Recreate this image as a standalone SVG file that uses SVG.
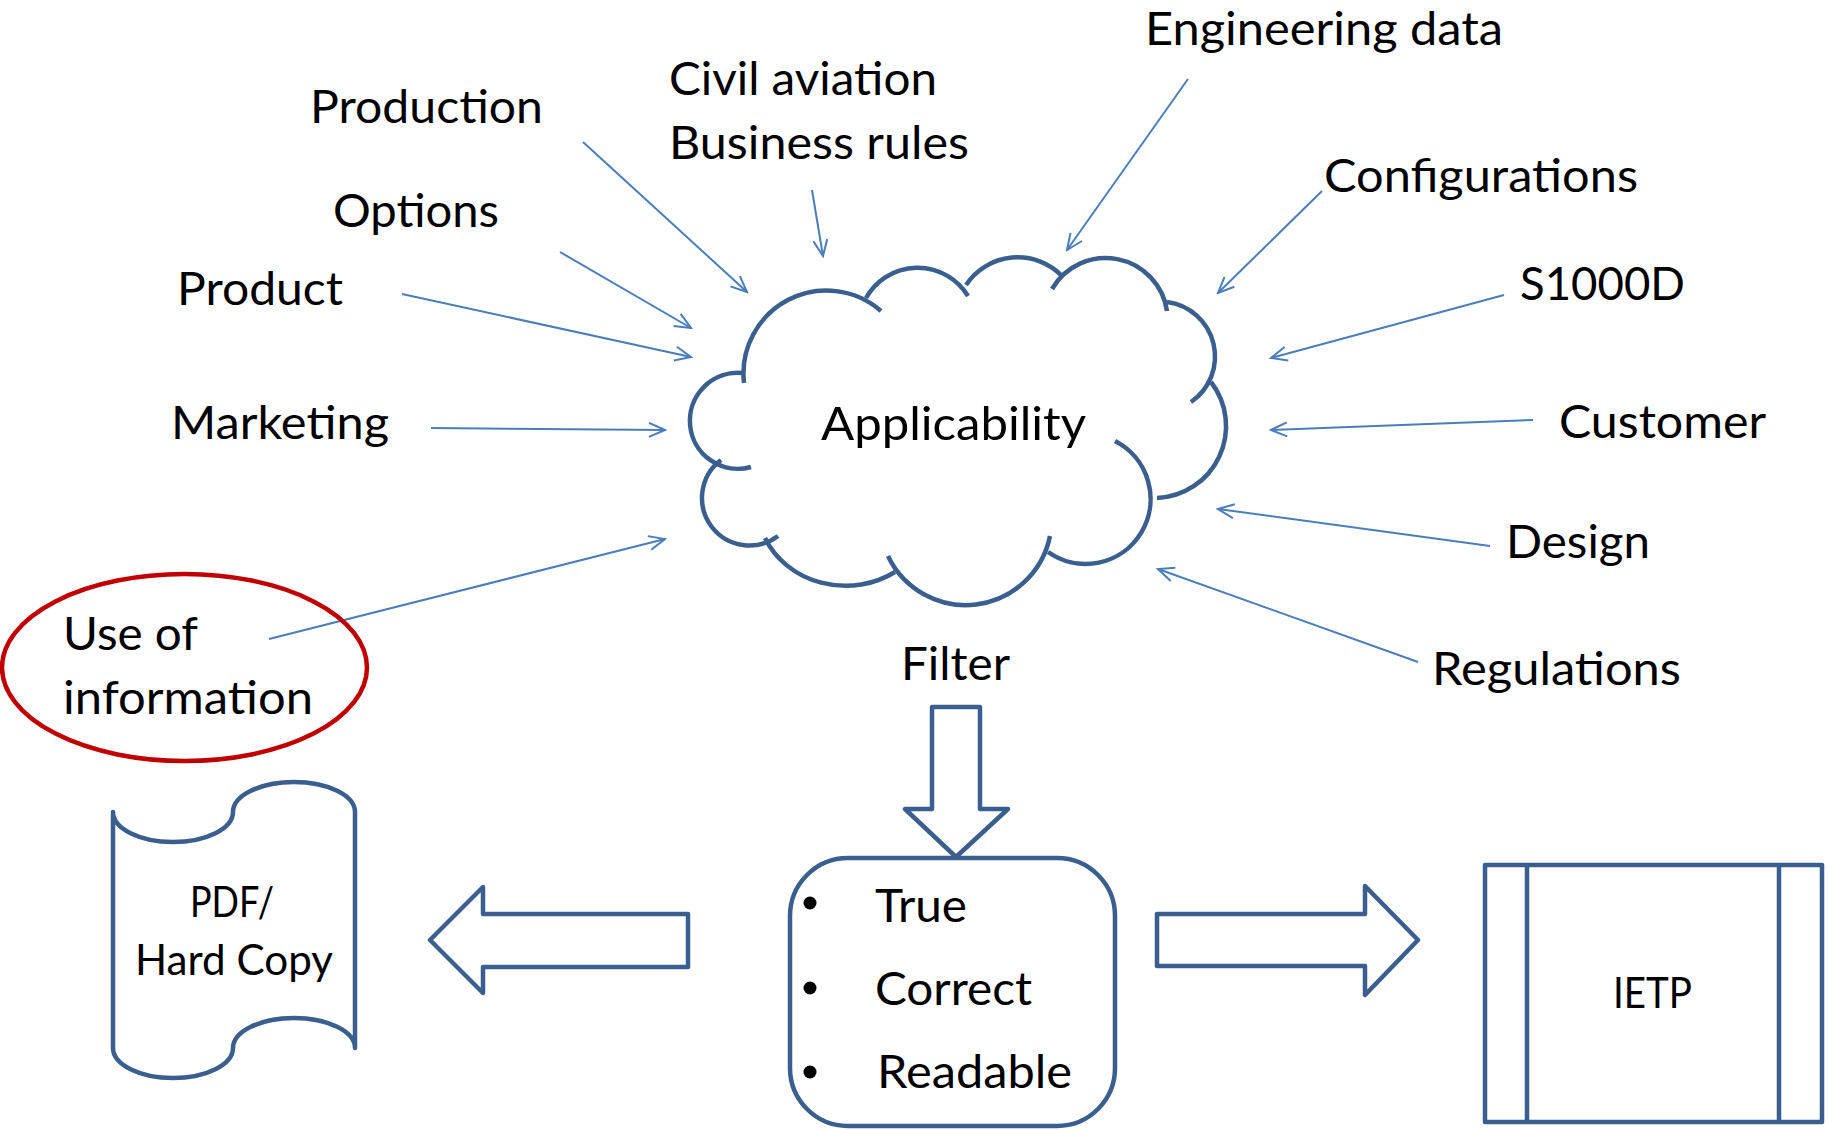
<svg xmlns="http://www.w3.org/2000/svg" width="1828" height="1130" viewBox="0 0 1828 1130">
<style>
text{font-family:Lato,"Liberation Sans",sans-serif;fill:#000;}
.lbl{font-size:47px;}
.sm{font-size:42px;}
.shape{fill:#fff;stroke:#3a5f8f;stroke-width:4.5;stroke-linejoin:round;}
.cl{fill:none;stroke:#3a5f8f;stroke-width:4.5;}
.conn{fill:none;stroke:#4a7ebb;stroke-width:2;marker-end:url(#ah);}
</style>
<defs>
<marker id="ah" markerUnits="userSpaceOnUse" markerWidth="20" markerHeight="16" viewBox="0 0 20 16" refX="18" refY="8" orient="auto">
<path d="M2,1 L18,8 L2,15" fill="none" stroke="#4a7ebb" stroke-width="2"/>
</marker>
</defs>
<rect width="1828" height="1130" fill="#fff"/>

<g id="connectors">
<line class="conn" x1="583" y1="142" x2="747" y2="292"/>
<line class="conn" x1="560" y1="252" x2="691" y2="328"/>
<line class="conn" x1="402" y1="294" x2="691" y2="357"/>
<line class="conn" x1="431" y1="428" x2="665" y2="430"/>
<line class="conn" x1="269" y1="639" x2="665" y2="539"/>
<line class="conn" x1="812" y1="190" x2="823" y2="256"/>
<line class="conn" x1="1188" y1="79" x2="1067" y2="250"/>
<line class="conn" x1="1322" y1="191" x2="1218" y2="293"/>
<line class="conn" x1="1504" y1="295" x2="1271" y2="358"/>
<line class="conn" x1="1533" y1="420" x2="1271" y2="430"/>
<line class="conn" x1="1490" y1="546" x2="1218" y2="509"/>
<line class="conn" x1="1418" y1="662" x2="1158" y2="569"/>
</g>

<g id="applicability">
<path class="cl" d="M751,467 A48,48 0 1 1 742,373"/>
<path class="cl" d="M744,383 A83,83 0 0 1 881,311"/>
<path class="cl" d="M866,298 A59,59 0 0 1 968,296"/>
<path class="cl" d="M966,285 A62,62 0 0 1 1062,276"/>
<path class="cl" d="M1052,289 A62,62 0 0 1 1167,311"/>
<path class="cl" d="M1167,302 A55,55 0 0 1 1191,402"/>
<path class="cl" d="M1211,382 A72,72 0 0 1 1157,498"/>
<path class="cl" d="M1115,441 A65,65 0 1 1 1048,552"/>
<path class="cl" d="M1050,536 A86,86 0 0 1 888,556"/>
<path class="cl" d="M895,572 A88,80 0 0 1 765,538"/>
<path class="cl" d="M778,536 A47.5,47.5 0 0 1 721,460"/>
<text class="lbl" x="821" y="440" textLength="265" lengthAdjust="spacingAndGlyphs">Applicability</text>
</g>

<g id="engineering-data"><text class="lbl" x="1145" y="45" textLength="358" lengthAdjust="spacingAndGlyphs">Engineering data</text></g>
<g id="civil-aviation"><text class="lbl" x="669" y="95" textLength="268" lengthAdjust="spacingAndGlyphs">Civil aviation</text><text class="lbl" x="669" y="159" textLength="300" lengthAdjust="spacingAndGlyphs">Business rules</text></g>
<g id="production"><text class="lbl" x="310" y="123" textLength="233" lengthAdjust="spacingAndGlyphs">Production</text></g>
<g id="options"><text class="lbl" x="333" y="227" textLength="166" lengthAdjust="spacingAndGlyphs">Options</text></g>
<g id="product"><text class="lbl" x="177" y="305" textLength="166" lengthAdjust="spacingAndGlyphs">Product</text></g>
<g id="marketing"><text class="lbl" x="171" y="439" textLength="218" lengthAdjust="spacingAndGlyphs">Marketing</text></g>
<g id="configurations"><text class="lbl" x="1324" y="192" textLength="314" lengthAdjust="spacingAndGlyphs">Configurations</text></g>
<g id="s1000d"><text class="lbl" x="1520" y="300" textLength="165" lengthAdjust="spacingAndGlyphs">S1000D</text></g>
<g id="customer"><text class="lbl" x="1559" y="438" textLength="207" lengthAdjust="spacingAndGlyphs">Customer</text></g>
<g id="design"><text class="lbl" x="1506" y="558" textLength="144" lengthAdjust="spacingAndGlyphs">Design</text></g>
<g id="regulations"><text class="lbl" x="1432" y="685" textLength="249" lengthAdjust="spacingAndGlyphs">Regulations</text></g>

<g id="use-of-information">
<ellipse cx="184.5" cy="667.5" rx="182.5" ry="93.5" fill="none" stroke="#c00000" stroke-width="4.5"/>
<text class="lbl" x="63" y="650" textLength="135" lengthAdjust="spacingAndGlyphs">Use of</text>
<text class="lbl" x="63" y="714" textLength="250" lengthAdjust="spacingAndGlyphs">information</text>
</g>

<g id="filter">
<text class="lbl" x="901" y="680" textLength="109" lengthAdjust="spacingAndGlyphs">Filter</text>
<path class="shape" d="M932,707 L980,707 L980,809 L1008,809 L956,857 L905,809 L932,809 Z"/>
</g>

<g id="result">
<rect class="shape" x="790" y="858" width="325" height="268" rx="58" ry="58"/>
<circle cx="810" cy="903" r="6.5"/>
<circle cx="810" cy="988" r="6.5"/>
<circle cx="810" cy="1072" r="6.5"/>
<text class="lbl" x="875" y="922" textLength="92" lengthAdjust="spacingAndGlyphs">True</text>
<text class="lbl" x="875" y="1005" textLength="157" lengthAdjust="spacingAndGlyphs">Correct</text>
<text class="lbl" x="877" y="1088" textLength="195" lengthAdjust="spacingAndGlyphs">Readable</text>
</g>

<g id="arrow-left"><path class="shape" d="M688,914 L483,914 L483,887 L430,940 L483,993 L483,967 L688,967 Z"/></g>
<g id="arrow-right"><path class="shape" d="M1157,914 L1365,914 L1365,886 L1418,940 L1365,995 L1365,966 L1157,966 Z"/></g>

<g id="pdf-hard-copy">
<path class="shape" d="M113,812 A60,30 0 0 0 233,812 A61,30 0 0 1 355,812 L355,1048 A61,30 0 0 0 233,1048 A60,30 0 0 1 113,1048 Z"/>
<text class="sm" x="190" y="917" textLength="84" lengthAdjust="spacingAndGlyphs">PDF/</text>
<text class="sm" x="135" y="975" textLength="198" lengthAdjust="spacingAndGlyphs">Hard Copy</text>
</g>

<g id="ietp">
<rect class="shape" x="1485" y="865" width="337" height="257"/>
<line x1="1527" y1="865" x2="1527" y2="1122" stroke="#3a5f8f" stroke-width="4.5"/>
<line x1="1779" y1="865" x2="1779" y2="1122" stroke="#3a5f8f" stroke-width="4.5"/>
<text class="sm" x="1613" y="1008" textLength="79" lengthAdjust="spacingAndGlyphs">IETP</text>
</g>
</svg>
